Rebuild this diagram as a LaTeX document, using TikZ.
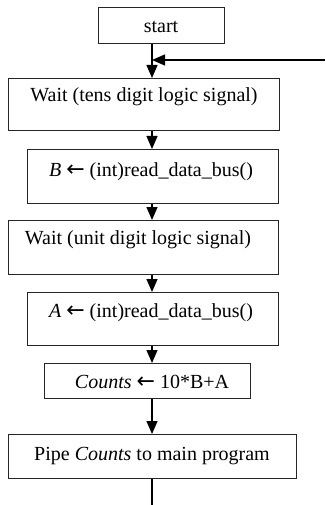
\documentclass[tikz,border=0pt]{standalone}
\usepackage{fontspec}
\setmainfont{Liberation Serif}
\newfontfamily\arrowfont{DejaVu Sans}
\usetikzlibrary{arrows.meta}
\newcommand{\larr}{{\arrowfont\fontsize{22}{24}\selectfont ←}}
\begin{document}
\begin{tikzpicture}[x=1pt,y=-1pt,
  box/.style={draw=black!85, line width=0.9pt, anchor=north west, inner sep=0pt},
  txt/.style={font=\fontsize{20}{24}\selectfont, inner sep=0pt, anchor=center},
  flow/.style={line width=1.3pt, -{Triangle[width=11pt,length=13pt]}},
  plain/.style={line width=1.3pt}]
\useasboundingbox[fill=white] (0,0) rectangle (325,505);
% boxes
\node[box, minimum width=126pt, minimum height=36pt] (start) at (98,7) {};
\node[box, minimum width=271pt, minimum height=52pt] (wait1) at (8,78) {};
\node[box, minimum width=251pt, minimum height=54pt] (bbox) at (27,149) {};
\node[box, minimum width=270pt, minimum height=54pt] (wait2) at (8,220) {};
\node[box, minimum width=251pt, minimum height=53pt] (abox) at (27,292) {};
\node[box, minimum width=206pt, minimum height=35pt] (cbox) at (44,363) {};
\node[box, minimum width=288pt, minimum height=44pt] (pbox) at (8,434) {};
% texts
\node[txt] (tstart) at (161,27) {start};
\node[txt] (twait1) at (144,97) {Wait (tens digit logic signal)};
\node[txt] (tb) at (151,172) {\textit{B} \larr{} (int)read\_data\_bus()};
\node[txt] (twait2) at (138,240) {Wait (unit digit logic signal)};
\node[txt] (ta) at (151,313) {\textit{A} \larr{} (int)read\_data\_bus()};
\node[txt] (tc) at (152,382) {\textit{Counts} \larr{} 10*B+A};
\node[txt] (tp) at (152,456) {Pipe \textit{Counts} to main program};
% connectors
\coordinate (join) at (152,60);
\coordinate (loopin) at (325,60);
\coordinate (bottom) at (152,505);
\draw[flow] (start.south -| join) -- (wait1.north -| join);
\draw[flow] (loopin) -- (join);
\draw[flow] (wait1.south -| join) -- (bbox.north -| join);
\draw[flow] (bbox.south -| join) -- (wait2.north -| join);
\draw[flow] (wait2.south -| join) -- (abox.north -| join);
\draw[flow] (abox.south -| join) -- (cbox.north -| join);
\draw[flow] (cbox.south -| join) -- (pbox.north -| join);
\draw[plain] (pbox.south -| join) -- (bottom);
\end{tikzpicture}
\end{document}
